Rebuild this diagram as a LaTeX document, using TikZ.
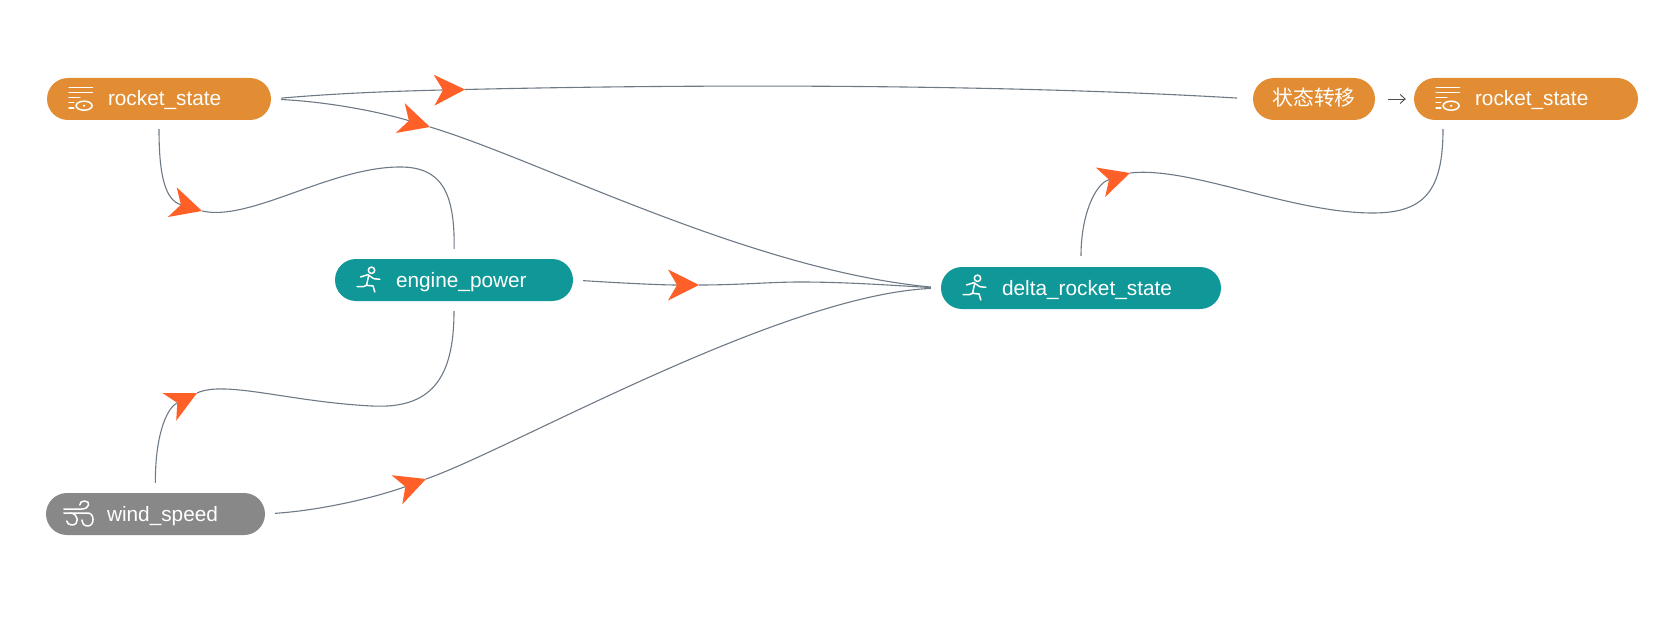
\documentclass[tikz,border=0pt]{standalone}
\usepackage{fontspec}
\setmainfont{Liberation Sans}
\newfontfamily\cjk{Noto Sans CJK SC}
\usepackage{xcolor}
\usetikzlibrary{arrows.meta,calc}
\definecolor{pillorange}{HTML}{E28D33}
\definecolor{pillteal}{HTML}{109797}
\definecolor{pillgray}{HTML}{888888}
\definecolor{flame}{HTML}{FF6027}
\definecolor{wire}{HTML}{6E7986}
\newcommand{\lbl}[1]{\hspace*{61pt}#1}
\tikzset{
  pill/.style={rounded corners=21pt,text=white,inner xsep=0pt,inner ysep=0pt,
               minimum height=42pt,text width=#1,align=left,
               text height=16pt,text depth=2pt,
               font=\fontsize{20.8}{24}\selectfont},
  opill/.style={pill=#1,fill=pillorange},
  tpill/.style={pill=#1,fill=pillteal},
  gpill/.style={pill=#1,fill=pillgray},
  link/.style={draw=wire,line width=1.1pt},
  arr/.style={link,-{Stealth[length=31pt,width=31pt,inset=9pt,flame,line width=0pt]}},
  ico/.style={draw=white,line width=1.5pt,line cap=round,line join=round},
  listicon/.pic={
    \draw[ico] (22.3,-11.3)--(45.7,-11.3) (22.3,-6.7)--(45.7,-6.7)
      (22.3,-1.7)--(33,-1.7) (22.3,3.7)--(27,3.7) (22.3,9)--(27,9);
    \draw[ico] (37.3,6.7) ellipse (8 and 4.5);
    \fill[white] (37.3,6.7) circle (1.2);
  },
  runicon/.pic={
    \draw[ico] (36.7,-9.7) circle (3.2);
    \draw[ico] (25.7,-3)--(33,-5.3)--(39,-1.3)--(45,-0.7);
    \draw[ico] (34,-5)--(31.7,5.3)--(38.3,6)--(40,12);
    \draw[ico] (31.7,5.3)--(29,6.5)--(22.3,6.5);
  },
  windicon/.pic={
    \draw[ico] (18,-5)--(36,-5) .. controls (44,-5) and (45,-13) .. (39,-13)
      .. controls (36,-13) and (34,-12) .. (34,-9);
    \draw[ico] (18,-1)--(42,-1) .. controls (49,-1) and (49,12) .. (42,12)
      .. controls (38,12) and (36,9) .. (36,6);
    \draw[ico] (25,-1) .. controls (33,0) and (34,11) .. (26,11)
      .. controls (23,11) and (21,9) .. (21,7);
  },
}
\begin{document}
\begin{tikzpicture}[x=1pt,y=-1pt]
\useasboundingbox (0,0) rectangle (1677,620);
% nodes
\node[opill=224pt] (rs) at (159,99) {\lbl{rocket\_state}};
\node[tpill=238pt] (em) at (454,280) {\lbl{engine\_power}};
\node[gpill=219pt] (ws) at (155.5,514) {\lbl{wind\_speed}};
\node[tpill=280pt] (dr) at (1081,288) {\lbl{delta\_rocket\_state}};
\node[opill=122pt,align=center] (st) at (1314,99) {\cjk 状态转移};
\node[opill=224pt] (rt) at (1526,99) {\lbl{rocket\_state}};
\pic at (rs.west) {listicon};
\pic at (rt.west) {listicon};
\pic at (em.west) {runicon};
\pic at (dr.west) {runicon};
\pic at (ws.west) {windicon};
\draw[draw=black!70,line width=0.9pt,-{Straight Barb[length=5pt,width=9pt]},
      shorten <=13pt,shorten >=8pt] (st.east) -- (rt.west);
% arrow tips sit in the middle of each link
\coordinate (ta) at (465,89.5);
\coordinate (tb) at (430,127);
\coordinate (tc) at (202,211);
\coordinate (td) at (699,285);
\coordinate (te) at (197,393);
\coordinate (tf) at (426,479);
\coordinate (tg) at (1130,173);
\coordinate (rtin) at ($(st.west)!0.5!(rt.east)+(-2.5,30)$);
% rocket_state
\draw[link,shorten >=16pt] (ta) .. controls (700,84) and (1000,84) .. (st.west);
\draw[arr,shorten <=10pt] (rs.east) .. controls (340,93) and (400,91) .. (ta);
\draw[link,shorten >=10pt] (tb) .. controls (540,160) and (750,270) .. (dr.west);
\draw[arr,shorten <=10pt] (rs.east) .. controls (330,102) and (380,112) .. (tb);
\draw[link,shorten >=10pt] (tc) .. controls (250,222) and (330,167) .. (400,167)
  .. controls (440,167) and (455,190) .. (em.north);
\draw[arr,shorten <=9pt] (rs.south) .. controls (159,175) and (165,200) .. (tc);
% engine_power
\draw[link,shorten >=10pt] (td) .. controls (740,285) and (770,282) .. (800,282)
  .. controls (850,282) and (900,286) .. (dr.west);
\draw[arr,shorten <=10pt] (em.east) .. controls (620,283) and (660,285) .. (td);
% wind_speed
\draw[link,shorten >=10pt] (te) .. controls (225,380) and (290,402) .. (372,406)
  .. controls (430,409) and (454,380) .. (em.south);
\draw[arr,shorten <=10pt] (ws.north) .. controls (155,440) and (165,409) .. (te);
\draw[link,shorten >=10pt] (tf) .. controls (510,450) and (780,295) .. (dr.west);
\draw[arr,shorten <=10pt] (ws.east) .. controls (325,510) and (380,496) .. (tf);
% delta_rocket_state
\draw[link] (tg) .. controls (1190,166) and (1290,213) .. (1373,213)
  .. controls (1425,213) and (1443,190) .. (rtin);
\draw[arr,shorten <=11pt] (dr.north) .. controls (1081,215) and (1095,184) .. (tg);
\end{tikzpicture}
\end{document}
